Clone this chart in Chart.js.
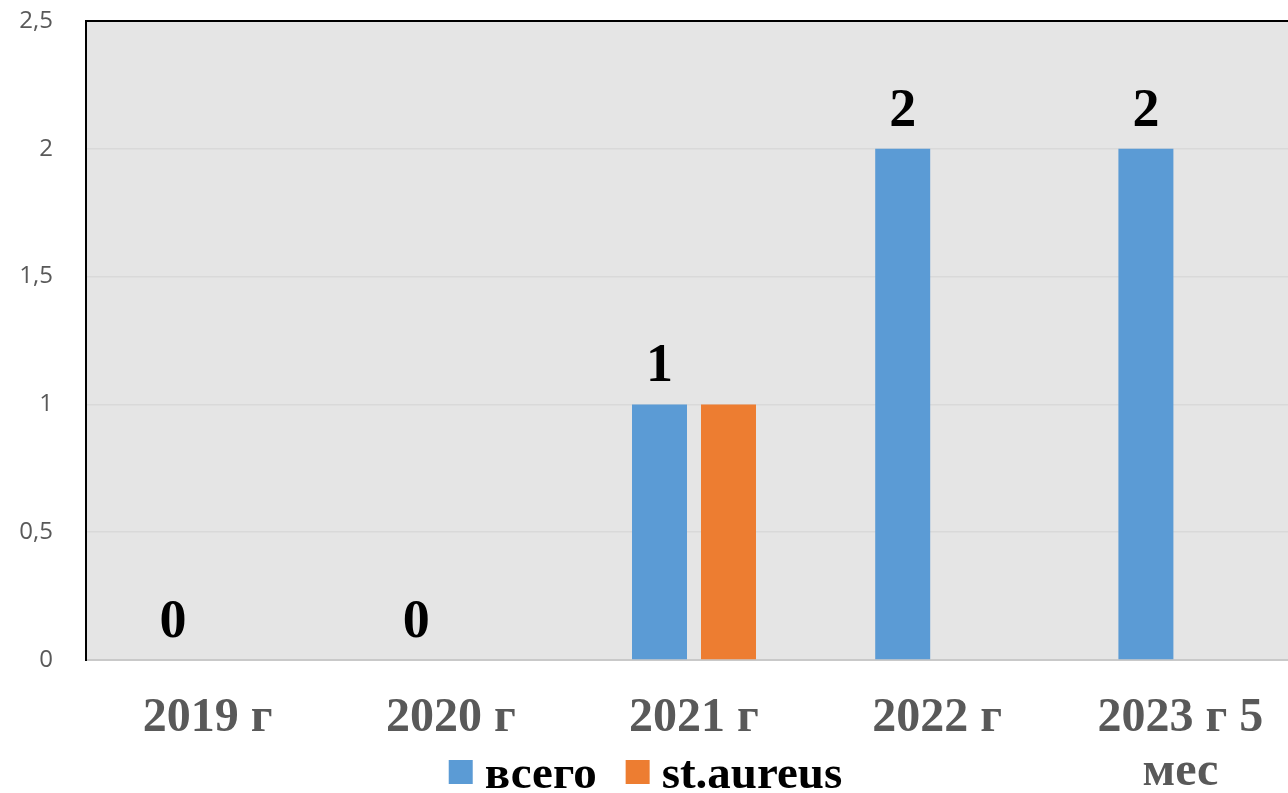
<!DOCTYPE html>
<html lang="ru">
<head>
<meta charset="utf-8">
<title>всего / st.aureus</title>
<script src="https://cdn.jsdelivr.net/npm/chart.js@4.4.1/dist/chart.umd.min.js"></script>
<style>
    html, body { margin: 0; padding: 0; background: #ffffff; overflow: hidden; }
    #wrap { width: 1288px; height: 793px; overflow: hidden; }
    canvas { display: block; }
</style>
</head>
<body>
<div id="wrap"><canvas id="chart" width="1302" height="793"></canvas></div>
<script>
// Categories and series
const years = ['2019 г', '2020 г', '2021 г', '2022 г', ['2023 г 5', 'мес']];
const totalCases = [0, 0, 1, 2, 2];
const aureusCases = [0, 0, 1, 0, 0];
const seriesNames = ['всего', 'st.aureus'];
const seriesColors = ['#5b9bd5', '#ed7d31'];

const GRAY_TEXT = '#595959';
const SERIF = "'Liberation Serif', 'Times New Roman', serif";

// Gray plot background plus black frame on the left and top
const plotFrame = {
    id: 'plotFrame',
    beforeDraw(chart) {
        const { ctx, chartArea: a } = chart;
        ctx.save();
        ctx.fillStyle = '#e5e5e5';
        ctx.fillRect(a.left, a.top, a.right - a.left, a.bottom - a.top);
        ctx.restore();
    },
    afterDraw(chart) {
        const { ctx, chartArea: a } = chart;
        ctx.save();
        ctx.strokeStyle = '#000000';
        ctx.lineWidth = 2;
        ctx.beginPath();
        ctx.moveTo(a.left, a.bottom + 1);
        ctx.lineTo(a.left, a.top);
        ctx.lineTo(a.right, a.top);
        ctx.stroke();
        ctx.restore();
    }
};

// Value labels above the "всего" bars
const valueLabels = {
    id: 'valueLabels',
    afterDatasetsDraw(chart) {
        const { ctx } = chart;
        const meta = chart.getDatasetMeta(0);
        ctx.save();
        ctx.font = 'bold 54px ' + SERIF;
        ctx.fillStyle = '#000000';
        ctx.textAlign = 'center';
        ctx.textBaseline = 'alphabetic';
        meta.data.forEach((bar, i) => {
            ctx.fillText(String(chart.data.datasets[0].data[i]), bar.x, bar.y - 23);
        });
        ctx.restore();
    }
};

// Legend drawn across the bottom, compact box/text spacing
const bottomLegend = {
    id: 'bottomLegend',
    afterDraw(chart) {
        const { ctx } = chart;
        const box = 24, textGap = 12, itemGap = 29;
        ctx.save();
        ctx.font = 'bold 47px ' + SERIF;
        const items = chart.data.datasets.map(ds => ({
            label: ds.label,
            color: ds.backgroundColor,
            w: ctx.measureText(ds.label).width
        }));
        const total = items.reduce((s, it) => s + box + textGap + it.w, 0) + itemGap * (items.length - 1);
        let x = 645.5 - total / 2;
        ctx.textBaseline = 'alphabetic';
        ctx.textAlign = 'left';
        items.forEach(it => {
            ctx.fillStyle = it.color;
            ctx.fillRect(x, 760, box, box);
            x += box + textGap;
            ctx.fillStyle = '#000000';
            ctx.fillText(it.label, x, 788);
            x += it.w + itemGap;
        });
        ctx.restore();
    }
};

new Chart(document.getElementById('chart'), {
    type: 'bar',
    data: {
        labels: years,
        datasets: [
            {
                label: seriesNames[0],
                data: totalCases,
                backgroundColor: seriesColors[0],
                categoryPercentage: 0.5674,
                barPercentage: 0.797
            },
            {
                label: seriesNames[1],
                data: aureusCases,
                backgroundColor: seriesColors[1],
                categoryPercentage: 0.5674,
                barPercentage: 0.797
            }
        ]
    },
    options: {
        responsive: false,
        animation: false,
        layout: { padding: { top: 21, right: 0, bottom: 0, left: 0 } },
        plugins: {
            legend: { display: false },
            tooltip: { enabled: false }
        },
        scales: {
            x: {
                grid: { display: false, drawTicks: false },
                border: { display: true, color: '#c9c9c9', width: 2 },
                ticks: {
                    color: GRAY_TEXT,
                    padding: 32,
                    maxRotation: 0,
                    autoSkip: false,
                    font: { family: SERIF, size: 48, weight: 'bold', lineHeight: 1.125 }
                },
                afterFit: (s) => { s.height = 133; }
            },
            y: {
                min: 0,
                max: 2.5,
                grid: { color: '#d9d9d9', lineWidth: 1.5, drawTicks: false },
                border: { display: false },
                ticks: {
                    stepSize: 0.5,
                    color: GRAY_TEXT,
                    padding: 33,
                    font: { family: "'Open Sans', sans-serif", size: 24 },
                    callback: (v) => String(v).replace('.', ',')
                },
                afterFit: (s) => {
                    s.width = 86;
                    s.paddingTop = 0;
                    s.paddingBottom = 0;
                }
            }
        }
    },
    plugins: [plotFrame, valueLabels, bottomLegend]
});
</script>
</body>
</html>
